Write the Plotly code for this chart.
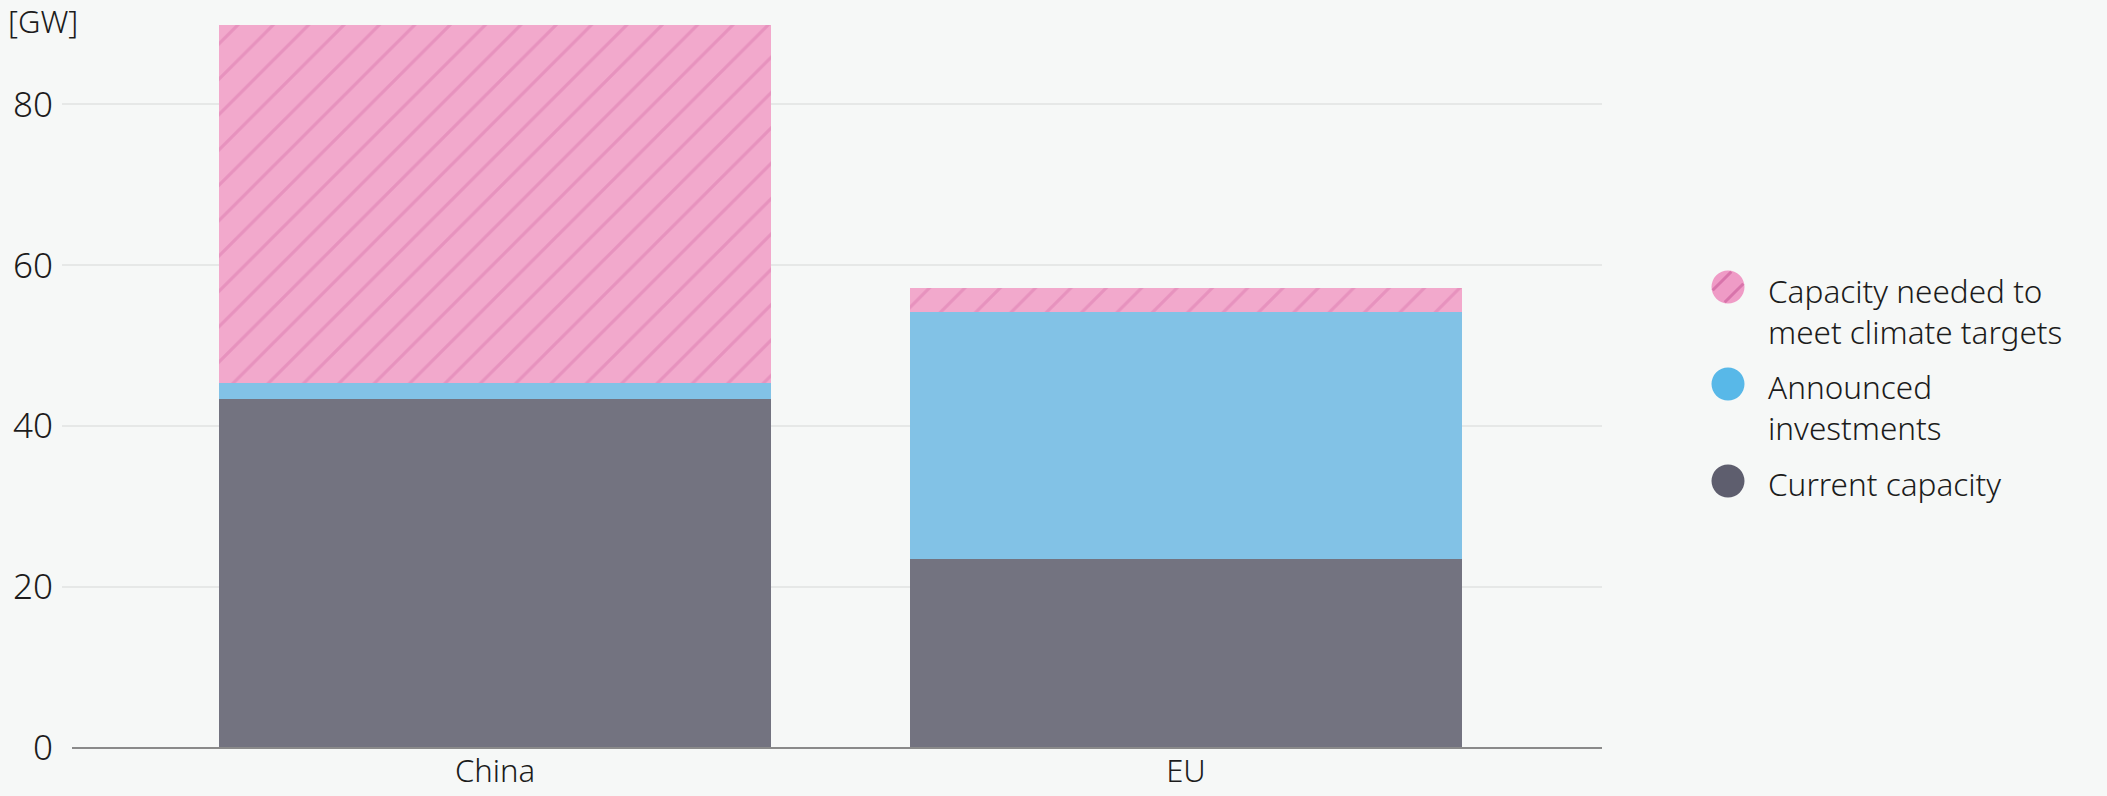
import math
import plotly.graph_objects as go

# ---- data ----
categories = ["China", "EU"]
current_capacity = [43.4, 23.5]
announced_investments = [2.0, 30.7]
needed_for_targets = [44.5, 3.0]
series_names = ["Current capacity", "Announced investments", "Capacity needed to meet climate targets"]
legend_labels = ["Capacity needed to<br>meet climate targets", "Announced<br>investments", "Current capacity"]
y_ticks = [0, 20, 40, 60, 80]
unit_label = "[GW]"

# ---- style ----
W, H = 2107, 796
L, R, T, B = 62, 505, 24, 48
PW, PH = W - L - R, H - T - B
BG = "#f6f8f7"
PINK, PINK_HATCH = "#f2a9cc", "#db7caf"
BLUE = "#82c2e6"
GRAY = "#737380"
FONT = "Noto Sans"
TXT = "#1c1c1c"

def px_x(x):
    return (x - L) / PW

def px_y(y):
    return (H - B - y) / PH

fig = go.Figure()
fig.add_bar(x=categories, y=current_capacity, name=series_names[0],
            marker=dict(color=GRAY, line=dict(width=0)), width=0.8)
fig.add_bar(x=categories, y=announced_investments, name=series_names[1],
            marker=dict(color=BLUE, line=dict(width=0)), width=0.8)
fig.add_bar(x=categories, y=needed_for_targets, name=series_names[2],
            marker=dict(color=PINK, line=dict(width=0),
                        pattern=dict(shape="/", size=25, solidity=0.13,
                                     fgcolor=PINK_HATCH, fillmode="overlay")),
            width=0.8)

shapes = []
annotations = []

# baseline
shapes.append(dict(type="line", xref="paper", yref="paper", x0=px_x(72), x1=1,
                   y0=0, y1=0, line=dict(color="#8a8a8a", width=2), layer="above"))

# custom legend (round markers)
legend_colors = ["#ef9bc6", "#58b8e8", "#5e5e6e"]
circle_cy = [287, 384, 481]
text_cy = [311, 407, 483]
cx, r = 1728, 16.5
for col, cy, ty, lab in zip(legend_colors, circle_cy, text_cy, legend_labels):
    shapes.append(dict(type="circle", xref="paper", yref="paper",
                       x0=px_x(cx - r), x1=px_x(cx + r), y0=px_y(cy + r), y1=px_y(cy - r),
                       fillcolor=col, line=dict(width=0), layer="above"))
    annotations.append(dict(xref="paper", yref="paper", x=px_x(1766), y=px_y(ty),
                            xanchor="left", yanchor="middle", align="left", showarrow=False,
                            text=lab, font=dict(family=FONT, size=31.5, color=TXT, weight=300)))
# hatch in the pink legend circle
cy0 = circle_cy[0]
for d in (-8.5, 8.5):
    h = math.sqrt(r * r - d * d) - 1
    mx, my = cx + d / math.sqrt(2), cy0 + d / math.sqrt(2)
    x0, y0 = mx - h / math.sqrt(2), my + h / math.sqrt(2)
    x1, y1 = mx + h / math.sqrt(2), my - h / math.sqrt(2)
    shapes.append(dict(type="line", xref="paper", yref="paper",
                       x0=px_x(x0), y0=px_y(y0), x1=px_x(x1), y1=px_y(y1),
                       line=dict(color="#d874ab", width=3), layer="above"))

# unit label
annotations.append(dict(xref="paper", yref="paper", x=px_x(6), y=px_y(21),
                        xanchor="left", yanchor="middle", showarrow=False, text=unit_label,
                        font=dict(family=FONT, size=31, color=TXT, weight=300)))

fig.update_layout(
    width=W, height=H, barmode="stack", showlegend=False,
    paper_bgcolor=BG, plot_bgcolor=BG,
    margin=dict(l=L, r=R, t=T, b=B, pad=0, autoexpand=False),
    font=dict(family=FONT, size=30, color=TXT),
    shapes=shapes, annotations=annotations,
    xaxis=dict(type="category", range=[-0.6266, 1.6021], showgrid=False, zeroline=False,
               showline=False, ticks="", tickfont=dict(family=FONT, size=31, color=TXT, weight=300),
               ticklabelstandoff=2, automargin=False),
    yaxis=dict(range=[0, 90], tickvals=y_ticks, ticktext=[str(v) for v in y_ticks],
               showgrid=True, gridcolor="#e6e8e7", gridwidth=2, zeroline=False,
               showline=False, ticks="", tickfont=dict(family=FONT, size=35, color=TXT, weight=300),
               ticklabelstandoff=8, automargin=False),
)

fig.write_html("out.html", config={"displayModeBar": False},
               post_script="document.body.style.margin='0';document.body.style.background='%s';" % BG)
